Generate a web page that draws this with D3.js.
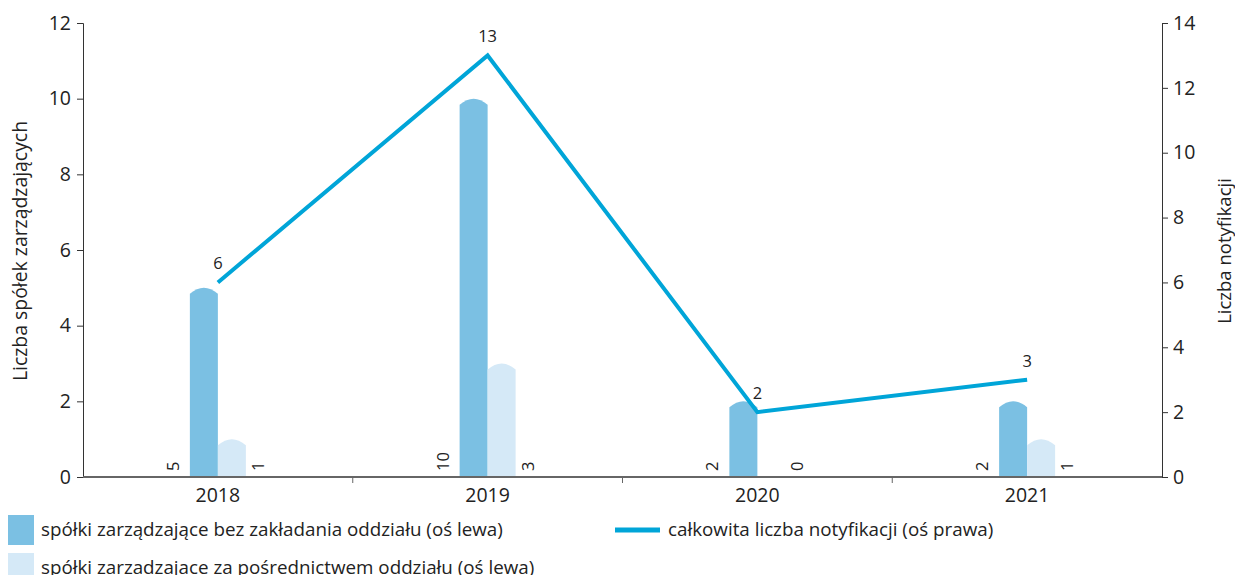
<!DOCTYPE html>
<html><head><meta charset="utf-8">
<script src="https://cdn.jsdelivr.net/npm/d3@7"></script>
<style>body{margin:0;background:#fff}svg{display:block;font-family:"Open Sans",sans-serif}</style>
</head><body><svg id="c" width="1235" height="575"></svg>
<script>
const years = ["2018","2019","2020","2021"];
const bezOddzialu = [5,10,2,2];
const zaOddzialem = [1,3,0,1];
const notyfikacje = [6,13,2,3];
const leftTicks = [0,2,4,6,8,10,12];
const rightTicks = [0,2,4,6,8,10,12,14];

const C_DARK="#7bc0e3", C_LIGHT="#d5e9f7", C_LINE="#00a5d8", C_TXT="#222";
const svg = d3.select("#c");
const L=83, R=1162, T=23, B=477;
const x = d3.scaleBand().domain(years).range([L,R]);
const yL = d3.scaleLinear().domain([0,12]).range([B,T]);
const yR = d3.scaleLinear().domain([0,14]).range([B,T]);
const bw = 28;

function barPath(x0,w,yTop,yBase){
  const h = yBase-yTop, cap=Math.min(6,h);
  if(h<=0) return "";
  return `M ${x0} ${yBase} L ${x0} ${yTop+cap} Q ${x0+w/2} ${yTop-cap} ${x0+w} ${yTop+cap} L ${x0+w} ${yBase} Z`;
}

// left axis
const gl = svg.append("g").attr("transform",`translate(${L},0)`).call(d3.axisLeft(yL).tickValues(leftTicks).tickSize(6).tickPadding(6));
gl.selectAll("text").attr("font-size",19.5).attr("fill",C_TXT).attr("font-family","Open Sans");
gl.selectAll("line,path").attr("stroke","#333");
// right axis
const gr = svg.append("g").attr("transform",`translate(${R},0)`).call(d3.axisRight(yR).tickValues(rightTicks).tickSize(6).tickPadding(5));
gr.selectAll("text").attr("font-size",19.5).attr("fill",C_TXT).attr("font-family","Open Sans");
gr.selectAll("line,path").attr("stroke","#333");

// bars
const g = svg.append("g");
years.forEach((yr,i)=>{
  const c = x(yr)+x.bandwidth()/2;
  g.append("path").attr("d",barPath(c-bw,bw,yL(bezOddzialu[i]),B)).attr("fill",C_DARK);
  g.append("path").attr("d",barPath(c,bw,yL(zaOddzialem[i]),B)).attr("fill",C_LIGHT);
  g.append("text").attr("transform",`translate(${c-bw-11},${B-6}) rotate(-90)`).attr("font-size",16.5).attr("fill",C_TXT).text(bezOddzialu[i]);
  g.append("text").attr("transform",`translate(${c+bw+18},${B-6}) rotate(-90)`).attr("font-size",16.5).attr("fill",C_TXT).text(zaOddzialem[i]);
});

// x axis
svg.append("line").attr("x1",L).attr("x2",R).attr("y1",B).attr("y2",B).attr("stroke","#666").attr("stroke-width",2);
years.slice(1).forEach(yr=>{
  svg.append("line").attr("x1",x(yr)).attr("x2",x(yr)).attr("y1",B).attr("y2",B+6).attr("stroke","#666");
});
years.forEach(yr=>{
  svg.append("text").attr("x",x(yr)+x.bandwidth()/2).attr("y",B+25).attr("text-anchor","middle").attr("font-size",19.5).attr("fill",C_TXT).text(yr);
});

// line
const line = d3.line().x((d,i)=>x(years[i])+x.bandwidth()/2).y(d=>yR(d));
svg.append("path").datum(notyfikacje).attr("d",line).attr("fill","none").attr("stroke",C_LINE).attr("stroke-width",4);
notyfikacje.forEach((v,i)=>{
  svg.append("text").attr("x",x(years[i])+x.bandwidth()/2).attr("y",yR(v)-13).attr("text-anchor","middle").attr("font-size",16.5).attr("fill",C_TXT).text(v);
});

// axis titles
svg.append("text").attr("transform",`translate(27,251) rotate(-90)`).attr("text-anchor","middle").attr("font-size",19.4).attr("fill",C_TXT).text("Liczba spółek zarządzających");
svg.append("text").attr("transform",`translate(1231,251) rotate(-90)`).attr("text-anchor","middle").attr("font-size",18.5).attr("fill",C_TXT).text("Liczba notyfikacji");

// legend
const lg = svg.append("g").attr("font-size",18.8).attr("fill",C_TXT);
lg.append("rect").attr("x",8).attr("y",515).attr("width",26).attr("height",30).attr("fill",C_DARK);
lg.append("text").attr("x",41).attr("y",536).text("spółki zarządzające bez zakładania oddziału (oś lewa)");
lg.append("rect").attr("x",8).attr("y",553).attr("width",26).attr("height",30).attr("fill",C_LIGHT);
lg.append("text").attr("x",41).attr("y",574).text("spółki zarzadzajace za pośrednictwem oddziału (oś lewa)");
lg.append("line").attr("x1",615).attr("x2",660).attr("y1",530).attr("y2",530).attr("stroke",C_LINE).attr("stroke-width",5);
lg.append("text").attr("x",668).attr("y",536).text("całkowita liczba notyfikacji (oś prawa)");
</script></body></html>
